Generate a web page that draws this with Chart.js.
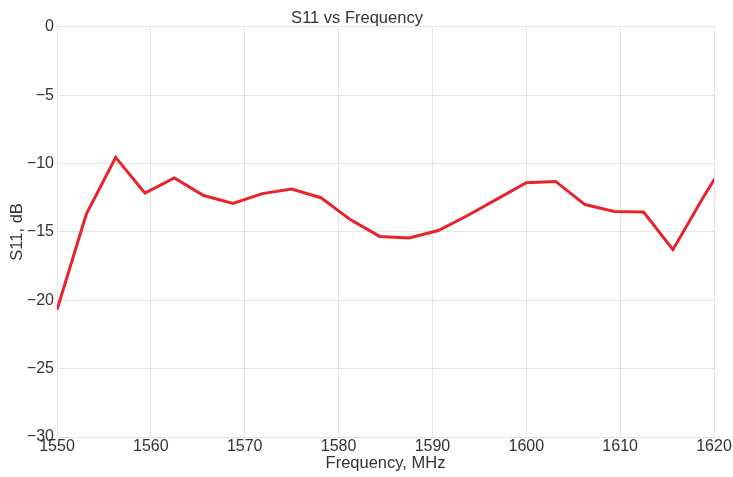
<!DOCTYPE html>
<html>
<head>
<meta charset="utf-8">
<script src="https://cdn.jsdelivr.net/npm/chart.js@4"></script>
<style>
html,body{margin:0;padding:0;background:#fff;}
#wrap{width:733px;height:477px;}
</style>
</head>
<body>
<div id="wrap"><canvas id="c" width="733" height="477"></canvas></div>
<script>
const frequencies = [1550, 1553.125, 1556.25, 1559.375, 1562.5, 1565.625, 1568.75, 1571.875, 1575, 1578.125, 1581.25, 1584.375, 1587.5, 1590.625, 1593.75, 1596.875, 1600, 1603.125, 1606.25, 1609.375, 1612.5, 1615.625, 1618.75, 1621.875];
const s11 = [-20.7, -13.7, -9.55, -12.17, -11.05, -12.34, -12.92, -12.2, -11.87, -12.5, -14.1, -15.33, -15.45, -14.9, -13.8, -12.6, -11.41, -11.31, -13.0, -13.5, -13.55, -16.3, -12.6, -9.1];
const titleText = 'S11 vs Frequency';
const xTitle = 'Frequency, MHz';
const yTitle = 'S11, dB';

const textColor = '#333333';
const gridColor = '#e5e5e5';
const fontFamily = 'Arial, "Liberation Sans", Helvetica, sans-serif';

new Chart(document.getElementById('c'), {
  type: 'line',
  data: {
    datasets: [{
      data: frequencies.map((f, i) => ({x: f, y: s11[i]})),
      borderColor: '#e8232a',
      borderWidth: 3,
      pointRadius: 0,
      tension: 0,
      fill: false,
      clip: 0
    }]
  },
  options: {
    responsive: false,
    animation: false,
    devicePixelRatio: 1,
    layout: {padding: {left: 0, right: 19, top: 0, bottom: 0}},
    plugins: {
      legend: {display: false},
      tooltip: {enabled: false},
      title: {
        display: true,
        text: titleText,
        color: textColor,
        font: {family: fontFamily, size: 16.5, weight: 'normal'},
        padding: {top: 9, bottom: -2}
      }
    },
    scales: {
      x: {
        type: 'linear',
        min: 1550,
        max: 1620,
        border: {display: true, color: gridColor},
        grid: {color: gridColor, drawTicks: false, lineWidth: 1},
        ticks: {
          stepSize: 10,
          color: textColor,
          padding: 0,
          font: {family: fontFamily, size: 16},
          callback: v => String(v)
        },
        title: {
          display: true,
          text: xTitle,
          color: textColor,
          font: {family: fontFamily, size: 16.5},
          padding: {top: 0, bottom: 4}
        },
        afterFit: s => { s.height = 40; }
      },
      y: {
        min: -30,
        max: 0,
        border: {display: true, color: gridColor},
        grid: {color: gridColor, drawTicks: false, lineWidth: 1},
        ticks: {
          stepSize: 5,
          color: textColor,
          padding: 3,
          font: {family: fontFamily, size: 16},
          callback: v => String(v).replace('-', '\u2212')
        },
        title: {
          display: true,
          text: yTitle,
          color: textColor,
          font: {family: fontFamily, size: 16.5},
          padding: {top: 8, bottom: 0}
        },
        afterFit: s => { s.width = 57; }
      }
    }
  }
});
</script>
</body>
</html>
